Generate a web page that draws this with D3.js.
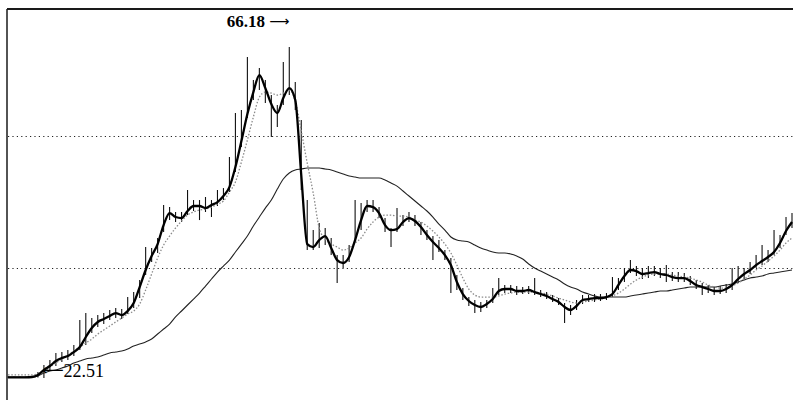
<!DOCTYPE html>
<html>
<head>
<meta charset="utf-8">
<script src="https://cdn.jsdelivr.net/npm/d3@7"></script>
<style>
  body { margin: 0; background: #fff; }
  svg { display: block; }
</style>
</head>
<body>
<div class="canvas"></div>
<script>
// Daily closes (thick line)
const close = [
  22.60,22.60,22.60,22.60,22.64,22.91,23.57,24.09,24.75,25.15,
  25.41,25.94,26.60,27.92,29.10,29.90,30.29,30.69,31.08,30.82,
  31.35,32.40,34.51,36.76,38.60,40.18,42.69,44.27,43.75,43.61,
  44.54,45.20,45.20,44.93,45.33,45.72,46.52,47.70,50.34,53.77,
  57.33,60.23,62.48,60.76,58.65,57.46,59.44,60.76,59.18,49.29,
  40.18,39.79,40.71,41.24,39.66,38.07,37.68,38.47,40.71,43.35,
  45.20,45.06,44.27,42.69,42.03,42.16,43.09,43.61,43.22,42.43,
  41.37,40.45,39.66,38.73,37.41,35.17,33.59,32.67,32.14,31.88,
  32.27,32.93,33.99,34.25,34.25,33.99,33.99,34.12,33.85,33.59,
  33.33,32.93,32.54,31.88,31.48,32.01,32.80,32.93,33.06,33.06,
  33.19,33.59,34.78,35.96,36.76,36.62,36.23,36.36,36.49,36.23,
  36.10,35.83,35.70,35.70,35.30,34.78,34.51,34.25,33.99,33.99,
  34.25,34.78,35.57,36.23,36.76,37.41,37.94,38.47,39.13,40.32,
  41.90,43.09
];

// Medium moving average (dotted grey)
const maMid = [
  22.91,22.91,22.91,22.91,22.91,23.04,23.30,23.96,24.49,25.02,
  25.54,26.07,26.60,27.13,27.65,28.31,28.84,29.37,29.90,30.42,
  30.95,31.35,32.27,34.12,36.23,38.34,40.05,41.24,42.30,43.22,
  44.01,44.41,44.67,44.80,45.06,45.46,45.86,47.04,48.36,51.00,
  53.90,56.94,59.57,60.23,60.10,59.84,60.10,60.50,59.05,55.09,
  50.87,46.91,42.30,40.84,40.18,39.79,39.39,39.66,40.32,40.98,
  42.16,43.09,43.75,44.01,44.01,43.88,43.88,43.75,43.35,43.09,
  42.56,41.90,41.11,40.18,39.00,37.41,35.70,34.25,33.46,33.19,
  33.19,33.19,33.33,33.59,33.72,33.85,33.85,33.85,33.85,33.72,
  33.59,33.33,33.06,32.80,32.54,32.40,32.54,32.67,32.80,32.93,
  33.06,33.33,33.72,34.25,34.91,35.44,35.83,36.10,36.23,36.23,
  36.23,36.10,35.96,35.83,35.70,35.44,35.17,34.78,34.51,34.38,
  34.38,34.64,35.04,35.57,36.10,36.76,37.28,37.94,38.60,39.39,
  40.32,40.98
];

// Long moving average (thin black)
const maLong = [
  22.64,22.64,22.64,22.64,22.64,22.77,23.17,23.43,23.57,23.83,
  24.09,24.49,24.75,25.02,25.15,25.28,25.54,25.81,25.94,26.07,
  26.34,26.73,26.99,27.26,27.65,28.31,28.97,29.63,30.56,31.35,
  32.14,32.93,33.72,34.64,35.57,36.49,37.28,38.07,39.13,40.18,
  41.24,42.56,43.75,44.93,45.99,47.44,48.76,49.55,49.95,50.08,
  50.21,50.21,50.21,50.08,49.95,49.68,49.42,49.15,49.02,48.89,
  48.89,48.89,48.89,48.63,48.23,47.83,47.18,46.52,45.86,45.20,
  44.54,43.75,42.82,42.03,41.11,40.71,40.58,40.45,40.05,39.66,
  39.39,39.13,39.00,39.00,38.87,38.60,38.21,37.55,37.02,36.62,
  36.23,35.83,35.44,34.91,34.51,34.25,33.85,33.59,33.33,33.19,
  33.19,33.19,33.19,33.19,33.33,33.46,33.59,33.72,33.85,33.99,
  33.99,34.12,34.25,34.38,34.51,34.51,34.51,34.51,34.51,34.64,
  34.78,34.91,35.17,35.44,35.70,35.83,35.96,36.23,36.36,36.49,
  36.62,36.76
];

// Daily highs and lows (price bars)
const high = [
  22.70,22.70,22.70,22.70,22.70,23.30,24.23,24.89,25.81,25.94,
  26.20,26.86,30.16,31.09,30.43,30.82,31.09,31.48,31.74,31.61,
  33.20,33.86,35.44,39.79,39.66,40.98,45.33,45.07,44.41,44.41,
  47.31,45.99,45.99,46.39,45.99,47.31,47.57,51.66,57.47,57.86,
  64.85,61.82,63.40,61.82,59.84,58.52,64.19,66.18,61.55,56.54,
  45.99,42.03,42.96,42.30,40.98,38.74,38.74,40.05,45.99,45.59,
  45.99,45.99,45.07,43.62,42.30,44.93,44.01,44.41,44.01,43.09,
  42.03,41.24,40.71,39.39,38.34,36.10,34.38,33.20,32.80,32.54,
  32.80,34.38,35.70,34.78,34.78,34.65,34.51,34.65,35.70,34.12,
  33.86,33.46,33.06,32.40,32.14,32.80,33.46,33.46,33.59,33.59,
  33.72,35.83,35.70,37.02,38.08,37.28,37.02,37.28,37.28,37.02,
  37.42,36.49,36.49,36.36,35.97,35.44,35.04,34.78,34.51,34.65,
  34.91,37.02,37.28,37.02,37.81,38.74,40.05,39.39,42.03,41.37,
  43.75,44.28
];

const low = [
  22.56,22.56,22.56,22.56,22.56,22.56,22.51,23.57,24.09,24.62,
  24.89,25.41,26.20,26.86,28.45,29.24,29.63,30.16,30.43,30.29,
  30.95,31.74,33.06,36.10,37.81,39.00,41.77,43.35,43.09,43.09,
  44.01,44.54,43.35,44.41,43.75,45.20,45.99,47.05,49.68,52.98,
  56.81,59.18,60.50,58.78,54.30,55.62,58.52,59.84,57.86,47.31,
  39.39,39.39,39.66,40.05,38.74,35.04,37.02,37.81,40.71,42.03,
  44.41,44.41,43.62,41.77,39.79,41.77,42.56,43.09,42.56,41.37,
  40.71,38.08,39.13,38.08,33.72,34.12,32.80,32.01,31.09,31.22,
  31.74,32.40,33.46,33.72,33.72,33.46,33.59,33.59,33.46,33.20,
  32.93,32.54,32.14,29.77,30.82,31.48,32.27,32.54,32.54,32.67,
  32.80,33.20,34.12,35.17,36.36,35.97,35.57,35.70,35.97,35.70,
  35.17,35.31,35.17,35.17,34.78,34.25,33.46,33.72,33.46,33.59,
  33.72,34.12,35.04,35.57,36.23,37.02,37.42,37.81,38.74,39.66,
  41.37,42.30
];

// Horizontal reference levels and marked extremes
const gridLevels = [54.5, 37.0];
const peak = { index: 47, value: 66.18 };
const trough = { index: 6, value: 22.51 };

const dims = { width: 793, height: 400 };
const serif = "'Liberation Serif', 'DejaVu Serif', serif";
const arrowFont = "'DejaVu Sans', sans-serif";

const svg = d3
  .select(".canvas")
  .append("svg")
  .attr("width", dims.width)
  .attr("height", dims.height);

const x = d3.scaleLinear().domain([0, close.length - 1]).range([8, 792]);
const y = d3.scaleLinear().domain([22.51, 66.18]).range([378, 47]);

// Frame (top and left edges only)
svg.append("line")
  .attr("x1", 7).attr("x2", 793).attr("y1", 9).attr("y2", 9)
  .attr("stroke", "#1a1a1a").attr("stroke-width", 2);
svg.append("line")
  .attr("x1", 7).attr("x2", 7).attr("y1", 9).attr("y2", 400)
  .attr("stroke", "#1a1a1a").attr("stroke-width", 1.5);

// Dotted grid lines
svg.selectAll(".grid")
  .data(gridLevels)
  .enter()
  .append("line")
  .attr("class", "grid")
  .attr("x1", 8).attr("x2", 793)
  .attr("y1", (d) => Math.round(y(d)) + 0.5)
  .attr("y2", (d) => Math.round(y(d)) + 0.5)
  .attr("stroke", "#222")
  .attr("stroke-width", 1)
  .attr("stroke-dasharray", "1.2,3.2");

// Price bars
svg.selectAll(".bar")
  .data(close)
  .enter()
  .append("line")
  .attr("class", "bar")
  .attr("x1", (d, i) => x(i)).attr("x2", (d, i) => x(i))
  .attr("y1", (d, i) => y(high[i]))
  .attr("y2", (d, i) => y(low[i]))
  .attr("stroke", "#111")
  .attr("stroke-width", 1.1);

const line = (arr) =>
  d3.line()
    .x((d, i) => x(i))
    .y((d) => y(d))
    .curve(d3.curveMonotoneX)(arr);

// Long average
svg.append("path")
  .attr("d", line(maLong))
  .attr("fill", "none")
  .attr("stroke", "#222")
  .attr("stroke-width", 1.1);

// Medium average
svg.append("path")
  .attr("d", line(maMid))
  .attr("fill", "none")
  .attr("stroke", "#8a8a8a")
  .attr("stroke-width", 1.3)
  .attr("stroke-dasharray", "1.5,1.8");

// Close
svg.append("path")
  .attr("d", line(close))
  .attr("fill", "none")
  .attr("stroke", "#000")
  .attr("stroke-width", 2.3)
  .attr("stroke-linejoin", "round");

// Peak label with right arrow
const peakLabel = svg.append("text")
  .attr("x", x(peak.index))
  .attr("y", y(peak.value) - 20)
  .attr("text-anchor", "end")
  .attr("font-family", serif)
  .attr("font-size", 17)
  .attr("font-weight", "bold")
  .attr("fill", "#000");
peakLabel.append("tspan").text(peak.value.toFixed(2) + " ");
peakLabel.append("tspan")
  .attr("font-family", arrowFont)
  .attr("font-weight", "normal")
  .attr("font-size", 14)
  .attr("dy", -1)
  .text("\u27F6");

// Trough label with left arrow
const troughLabel = svg.append("text")
  .attr("x", x(trough.index) - 2)
  .attr("y", y(trough.value) - 1)
  .attr("text-anchor", "start")
  .attr("font-family", serif)
  .attr("font-size", 18)
  .attr("fill", "#000");
troughLabel.append("tspan")
  .attr("font-family", arrowFont)
  .attr("font-size", 15)
  .attr("dy", -2)
  .text("\u27F5");
troughLabel.append("tspan").attr("dy", 2).text(trough.value.toFixed(2));
</script>
</body>
</html>
